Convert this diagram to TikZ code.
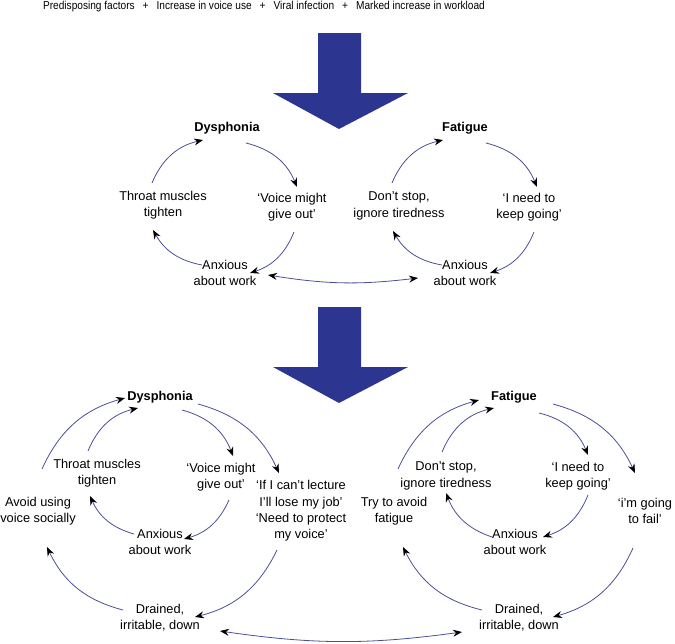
\documentclass[tikz,border=0pt]{standalone}
\usepackage{fontspec}
\setmainfont{Liberation Sans}
\newfontfamily\headfont[FakeStretch=0.88]{Liberation Sans}
\usetikzlibrary{arrows.meta,calc}
\definecolor{bigblue}{RGB}{44,54,145}
\definecolor{linkblue}{RGB}{75,78,150}
\tikzset{
  lbl/.style={align=center,inner sep=0pt,font=\fontsize{12.8}{16.3}\selectfont},
  head/.style={lbl,font=\fontsize{12.8}{16.3}\selectfont\bfseries},
  tip/.style={},
  cyc/.style={draw=linkblue,line width=0.8pt,-{Stealth[length=9pt,width=7pt,inset=3pt,black]}},
  dbl/.style={draw=linkblue,line width=0.8pt,{Stealth[length=9pt,width=7pt,inset=3pt,black]}-{Stealth[length=9pt,width=7pt,inset=3pt,black]}},
  bigarrow/.style={fill=bigblue,draw=none}
}
\begin{document}
\begin{tikzpicture}[x=1pt,y=-1pt]
\useasboundingbox (0,0) rectangle (675,643);
% heading
\node[inner sep=0pt,font=\headfont\fontsize{11.5}{13}\selectfont] (top) at (264,7)
  {Predisposing factors\hspace{8pt}+\hspace{8pt}Increase in voice use\hspace{8pt}+\hspace{8pt}Viral infection\hspace{8pt}+\hspace{8pt}Marked increase in workload};
% big arrows
\fill[bigarrow] (318,33) -- (361,33) -- (361,93) -- (408,93) -- (339,129) -- (273,93) -- (318,93) -- cycle;
\fill[bigarrow] (318,307) -- (361,307) -- (361,367) -- (408,367) -- (339,403) -- (273,367) -- (318,367) -- cycle;

% ---------- top cycles ----------
\node[head] (dysA) at (227,128) {Dysphonia};
\node[lbl] (throatA) at (163,205) {Throat muscles\\tighten};
\node[lbl] (voiceA) at (292,207) {`Voice might\\give out'};
\node[lbl] (anxA) at (225,273) {Anxious\\about work};

\node[head] (fatA) at (465,128) {Fatigue};
\node[lbl] (dontA) at (399,206) {Don't stop,\\ignore tiredness};
\node[lbl] (needA) at (529,207) {`I need to\\keep going'};
\node[lbl] (anxA2) at (465,273) {Anxious\\about work};

\draw[cyc] ($(dysA)+(19,15)$) to[bend left=27] ($(voiceA)+(5,-20)$);
\draw[cyc] ($(voiceA)+(2,25)$) to[bend left=25] ($(anxA)+(25,0)$);
\draw[cyc] ($(anxA)+(-23,-8)$) to[bend left=25] ($(throatA)+(-10,25)$);
\draw[cyc] ($(throatA)+(-11,-22)$) to[bend left=27] ($(dysA)+(-24,12)$);

\draw[cyc] ($(fatA)+(21,15)$) to[bend left=27] ($(needA)+(8,-20)$);
\draw[cyc] ($(needA)+(5,25)$) to[bend left=25] ($(anxA2)+(25,0)$);
\draw[cyc] ($(anxA2)+(-23,-8)$) to[bend left=25] ($(dontA)+(-6,25)$);
\draw[cyc] ($(dontA)+(-7,-23)$) to[bend left=27] ($(fatA)+(-22,12)$);

\draw[dbl] ($(anxA)+(43,2)$) to[bend right=8] ($(anxA2)+(-47,5)$);

% ---------- bottom left ----------
\node[head] (dysB) at (160,397) {Dysphonia};
\node[lbl] (throatB) at (97,473) {Throat muscles\\tighten};
\node[lbl] (voiceB) at (221,477) {`Voice might\\give out'};
\node[lbl] (ifB) at (301,511) {`If I can't lecture\\I'll lose my job'\\`Need to protect\\my voice'};
\node[lbl] (avoidB) at (38,511) {Avoid using\\voice socially};
\node[lbl] (anxB) at (160,542) {Anxious\\about work};
\node[lbl] (drainB) at (160,618) {Drained,\\irritable, down};

\draw[cyc] ($(dysB)+(22,13)$) to[bend left=27] ($(voiceB)+(12,-21)$);
\draw[cyc] ($(voiceB)+(8,23)$) to[bend left=25] ($(anxB)+(24,-3)$);
\draw[cyc] ($(anxB)+(-26,-8)$) to[bend left=25] ($(throatB)+(-7,23)$);
\draw[cyc] ($(throatB)+(-9,-22)$) to[bend left=27] ($(dysB)+(-22,11)$);

\draw[cyc] ($(dysB)+(38,7)$) to[bend left=25] ($(ifB)+(-22,-38)$);
\draw[cyc] ($(ifB)+(-24,39)$) to[bend left=25] ($(drainB)+(35,-1)$);
\draw[cyc] ($(drainB)+(-37,-8)$) to[bend left=25] ($(avoidB)+(9,36)$);
\draw[cyc] ($(avoidB)+(4,-42)$) to[bend left=25] ($(dysB)+(-35,1)$);

% ---------- bottom right ----------
\node[head] (fatB) at (514,397) {Fatigue};
\node[lbl] (dontB) at (446,476) {Don't stop,\\ignore tiredness};
\node[lbl] (needB) at (578,476) {`I need to\\keep going'};
\node[lbl] (failB) at (645,511) {`i'm going\\to fail'};
\node[lbl] (tryB) at (394,511) {Try to avoid\\fatigue};
\node[lbl] (anxB2) at (515,542) {Anxious\\about work};
\node[lbl] (drainB2) at (519,618) {Drained,\\irritable, down};

\draw[cyc] ($(fatB)+(25,16)$) to[bend left=27] ($(needB)+(10,-21)$);
\draw[cyc] ($(needB)+(10,19)$) to[bend left=25] ($(anxB2)+(28,-5)$);
\draw[cyc] ($(anxB2)+(-23,-5)$) to[bend left=25] ($(dontB)+(0,17)$);
\draw[cyc] ($(dontB)+(-4,-24)$) to[bend left=27] ($(fatB)+(-20,11)$);

\draw[cyc] ($(fatB)+(39,7)$) to[bend left=25] ($(failB)+(-10,-38)$);
\draw[cyc] ($(failB)+(-12,37)$) to[bend left=25] ($(drainB2)+(34,-1)$);
\draw[cyc] ($(drainB2)+(-37,-8)$) to[bend left=25] ($(tryB)+(9,36)$);
\draw[cyc] ($(tryB)+(4,-42)$) to[bend left=25] ($(fatB)+(-35,3)$);

\draw[dbl] ($(drainB)+(60,13)$) to[bend right=8] ($(drainB2)+(-57,14)$);
\end{tikzpicture}
\end{document}
